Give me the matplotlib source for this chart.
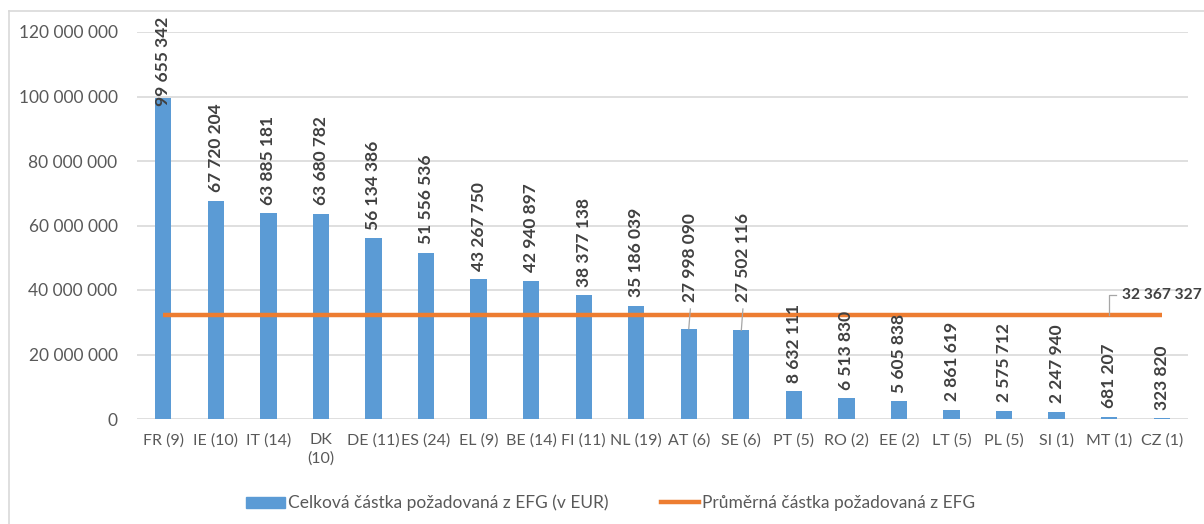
import matplotlib
matplotlib.use("Agg")
import matplotlib.pyplot as plt
from matplotlib.lines import Line2D
from matplotlib.ticker import FuncFormatter

# data
countries = ["FR (9)", "IE (10)", "IT (14)", "DK\n(10)", "DE (11)", "ES (24)", "EL (9)",
             "BE (14)", "FI (11)", "NL (19)", "AT (6)", "SE (6)", "PT (5)", "RO (2)",
             "EE (2)", "LT (5)", "PL (5)", "SI (1)", "MT (1)", "CZ (1)"]
amounts = [99655342, 67720204, 63885181, 63680782, 56134386, 51556536, 43267750,
           42940897, 38377138, 35186039, 27998090, 27502116, 8632111, 6513830,
           5605838, 2861619, 2575712, 2247940, 681207, 323820]
average = 32367327

bar_name = "Celková částka požadovaná z EFG (v EUR)"
line_name = "Průměrná částka požadovaná z EFG"

BLUE = "#5b9bd5"
ORANGE = "#ed7d31"
GRID = "#d9d9d9"
TICK = "#595959"
LABEL = "#404040"

plt.rcParams["font.family"] = ["Lato", "DejaVu Sans"]

W, H = 1204, 524
fig = plt.figure(figsize=(W / 100, H / 100), dpi=100)
ax = fig.add_axes([137 / W, 1 - 419 / H, (1188 - 137) / W, (419 - 32) / H])

def sp(n):
    return f"{n:,}".replace(",", " ")

x = list(range(len(countries)))
ax.bar(x, amounts, width=0.31, color=BLUE, zorder=2, label=bar_name)
ax.plot([x[0], x[-1]], [average, average], color=ORANGE, lw=3.2, zorder=3,
        solid_capstyle="butt", label=line_name)

ax.set_xlim(-0.5, len(countries) - 0.5)
ax.set_ylim(0, 120_000_000)
ax.set_yticks(range(0, 120_000_001, 20_000_000))
ax.yaxis.set_major_formatter(FuncFormatter(lambda v, p: sp(int(v))))
ax.set_xticks(x)
ax.set_xticklabels(countries, fontsize=11.5, color=TICK, linespacing=1.4)
ax.tick_params(axis="y", labelsize=12.5, colors=TICK, length=0, pad=14)
ax.tick_params(axis="x", length=0, pad=10)
ax.grid(axis="y", color=GRID, lw=1.2, zorder=0)
for s in ax.spines.values():
    s.set_visible(False)

# value labels
px_per_unit = (419 - 32) / 120_000_000
moved = {10: 36_300_000, 11: 36_300_000}  # AT, SE labels lifted with leader lines
for i, v in enumerate(amounts):
    txt = sp(v)
    if i == 0:
        ax.annotate(txt, (i, 120_000_000), xytext=(0, 15 * 0.72), textcoords="offset points",
                    rotation=90, ha="center", va="top", fontsize=12.5, fontweight="bold",
                    color=LABEL, annotation_clip=False)
    elif i in moved:
        ly = moved[i]
        ax.text(i + 0.03, ly, txt, rotation=90, ha="center", va="bottom", fontsize=12.5,
                fontweight="bold", color=LABEL)
        ax.plot([i, i + 0.03], [v, ly - 7 / px_per_unit], color="#a6a6a6",
                lw=0.9, zorder=4)
    else:
        ax.annotate(txt, (i, v), xytext=(0, 6), textcoords="offset points", rotation=90,
                    ha="center", va="bottom", fontsize=12.5, fontweight="bold", color=LABEL)

# average label with leader
top_y = average + 20 / px_per_unit
ax.plot([18, 18, 18.13], [average, top_y, top_y], color="#a6a6a6", lw=0.9, zorder=4,
        clip_on=False)
ax.text(18.24, top_y, sp(average), ha="left", va="center", fontsize=11.2, fontweight="bold",
        color=LABEL, clip_on=False)

# chart frame (top and left edges visible)
fig.add_artist(Line2D([9 / W, 9 / W], [0, 1 - 11 / H], color=GRID, lw=1.2))
fig.add_artist(Line2D([9 / W, 1], [1 - 11 / H, 1 - 11 / H], color=GRID, lw=1.2))

handles = [plt.Rectangle((0, 0), 1, 1, color=BLUE),
           Line2D([0], [0], color=ORANGE, lw=3.2)]
leg = fig.legend(handles, [bar_name, line_name], loc="center", ncol=2,
                 bbox_to_anchor=(611 / W, 1 - 503 / H), frameon=False, fontsize=12.5,
                 handlelength=2.2, handleheight=0.6, handletextpad=0.2, columnspacing=3.0)
for t in leg.get_texts():
    t.set_color(TICK)

fig.savefig("out.png", dpi=100)
